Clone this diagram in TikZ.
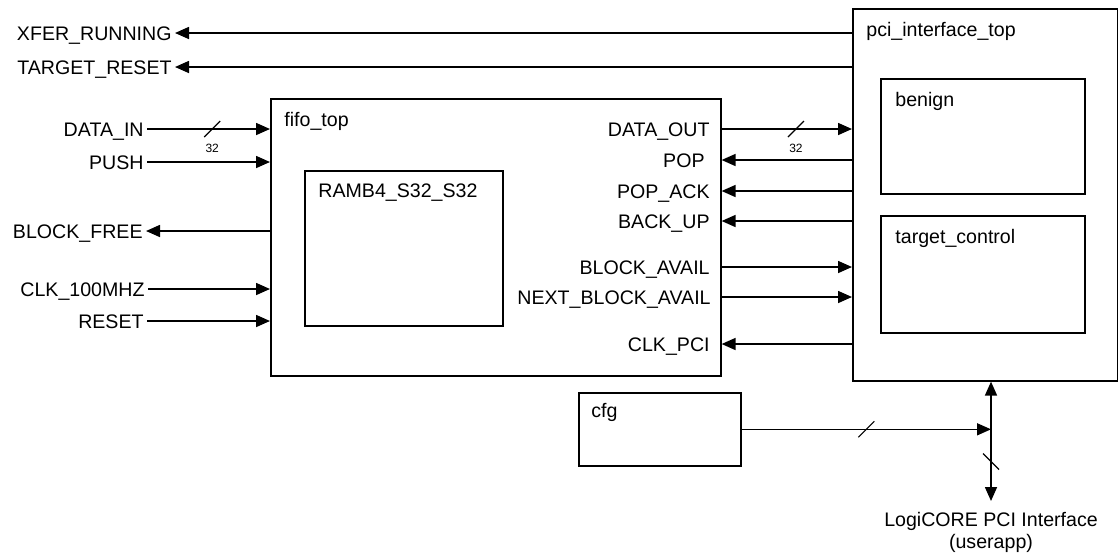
\documentclass[tikz,border=0pt]{standalone}
\usepackage{fontspec}
\setmainfont{Liberation Sans}
\usetikzlibrary{arrows.meta,positioning}
\tikzset{
  blk/.style={draw, line width=0.8pt, anchor=north west, inner sep=0pt},
  title/.style={inner sep=0pt},
  sig/.style={inner sep=1.5pt, text height=7.2pt, text depth=0pt},
  wire/.style={line width=0.8pt, -{Triangle[length=7pt,width=6pt]}},
  bidir/.style={line width=0.8pt, {Triangle[length=7pt,width=6pt]}-{Triangle[length=7pt,width=6pt]}},
  slash/.style={line width=0.6pt},
  buslbl/.style={inner sep=0pt, font=\fontsize{6}{7}\selectfont},
}
% bus width mark on a wire
\newcommand\busmark[1]{%
  \draw[slash] ([shift={(-8,8)}]#1) -- ([shift={(8,-8)}]#1);}

\begin{document}
\begin{tikzpicture}[x=0.5pt,y=-0.5pt, every node/.append style={font=\fontsize{9.8}{11}\selectfont}]
\useasboundingbox (0,0) rectangle (1118,553);

% blocks
\node[blk, minimum width=225pt, minimum height=138.5pt] (fifo) at (270,98) {};
\node[blk, minimum width=99pt, minimum height=77.5pt] (ramb) at (304,170) {};
\node[blk, minimum width=132.5pt, minimum height=186pt] (pci) at (852,8) {};
\node[blk, minimum width=102pt, minimum height=57.5pt] (benign) at (880,78) {};
\node[blk, minimum width=102pt, minimum height=58.5pt] (tctrl) at (880,215) {};
\node[blk, minimum width=81pt, minimum height=36.5pt] (cfg) at (578,392) {};

\node[title, below right=7pt and 7pt of fifo.north west] (fifot) {fifo\_top};
\node[title, below right=6.5pt and 7pt of ramb.north west] (rambt) {RAMB4\_S32\_S32};
\node[title, below right=7pt and 7pt of pci.north west] (pcit) {pci\_interface\_top};
\node[title, below right=7pt and 7.5pt of benign.north west] (benignt) {benign};
\node[title, below right=7pt and 7.5pt of tctrl.north west] (tctrlt) {target\_control};
\node[title, below right=5.5pt and 6.5pt of cfg.north west] (cfgt) {cfg};

% left side signals
\node[sig, anchor=east] (xfer) at (175,33) {XFER\_RUNNING};
\node[sig, anchor=east] (trst) at (175,67) {TARGET\_RESET};
\node[sig, anchor=east] (din) at (147,129) {DATA\_IN};
\node[sig, anchor=east] (push) at (147,162) {PUSH};
\node[sig, anchor=east] (bfree) at (146,231) {BLOCK\_FREE};
\node[sig, anchor=east] (clk) at (148,289) {CLK\_100MHZ};
\node[sig, anchor=east] (rst) at (147,321) {RESET};

\draw[wire] (xfer -| pci.west) -- (xfer.east);
\draw[wire] (trst -| pci.west) -- (trst.east);
\draw[wire] (din.east) -- coordinate[pos=0.53] (dbus) (din.east -| fifo.west);
\busmark{dbus}
\node[buslbl] (dbusl) at ([shift={(0,19)}]dbus) {32};
\draw[wire] (push.east) -- (push.east -| fifo.west);
\draw[wire] (bfree.east -| fifo.west) -- (bfree.east);
\draw[wire] (clk.east) -- (clk.east -| fifo.west);
\draw[wire] (rst.east) -- (rst.east -| fifo.west);

% fifo <-> pci signals
\node[sig, anchor=east] (dout) at (713,129) {DATA\_OUT};
\node[sig, anchor=east] (pop) at (708,160) {POP};
\node[sig, anchor=east] (popack) at (713,191) {POP\_ACK};
\node[sig, anchor=east] (backup) at (713,221) {BACK\_UP};
\node[sig, anchor=east] (bavail) at (713,267) {BLOCK\_AVAIL};
\node[sig, anchor=east] (nbavail) at (714,297) {NEXT\_BLOCK\_AVAIL};
\node[sig, anchor=east] (clkpci) at (713,344) {CLK\_PCI};

\draw[wire] (dout -| fifo.east) -- coordinate[pos=0.57] (obus) (dout -| pci.west);
\busmark{obus}
\node[buslbl] (obusl) at ([shift={(0,19)}]obus) {32};
\draw[wire] (pop -| pci.west) -- (pop -| fifo.east);
\draw[wire] (popack -| pci.west) -- (popack -| fifo.east);
\draw[wire] (backup -| pci.west) -- (backup -| fifo.east);
\draw[wire] (bavail -| fifo.east) -- (bavail -| pci.west);
\draw[wire] (nbavail -| fifo.east) -- (nbavail -| pci.west);
\draw[wire] (clkpci -| pci.west) -- (clkpci -| fifo.east);

% pci core connection
\node[inner sep=0pt, anchor=north, align=center] (core) at (991,512) {LogiCORE PCI Interface\\(userapp)};
\coordinate (jn) at (991,430);
\draw[bidir] (jn |- pci.south) -- coordinate[pos=0.67] (vbus) ([yshift=5.5pt]core.north);
\draw[slash] ([shift={(-8,-8)}]vbus) -- ([shift={(8,8)}]vbus);
\draw[wire] (cfg.east) -- coordinate[pos=0.5] (cbus) (cfg.east -| jn);
\busmark{cbus}
\end{tikzpicture}
\end{document}
